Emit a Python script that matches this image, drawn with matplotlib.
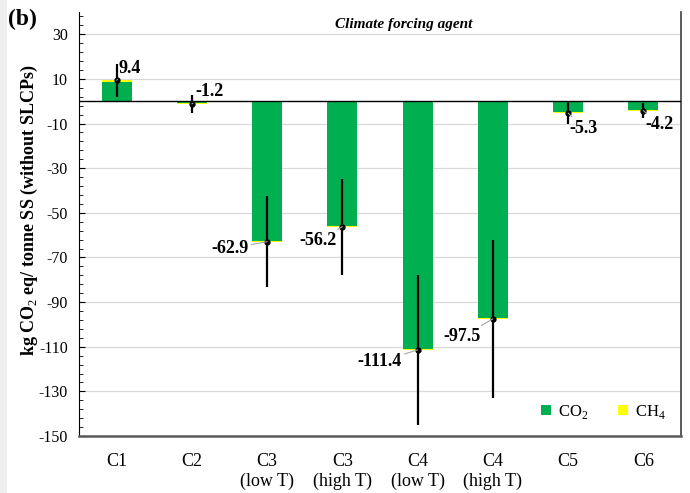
import numpy as np
import matplotlib
matplotlib.use("Agg")
import matplotlib.pyplot as plt
from matplotlib.ticker import FixedLocator
from matplotlib.patches import Rectangle

plt.rcParams['font.family'] = ['Liberation Serif', 'DejaVu Serif']
plt.rcParams['mathtext.fontset'] = 'custom'
plt.rcParams['mathtext.rm'] = 'Liberation Serif'
plt.rcParams['mathtext.bf'] = 'Liberation Serif:bold'
plt.rcParams['axes.unicode_minus'] = False

categories = ["C1", "C2", "C3\n(low T)", "C3\n(high T)", "C4\n(low T)",
              "C4\n(high T)", "C5", "C6"]
totals = [9.4, -1.2, -62.9, -56.2, -111.4, -97.5, -5.3, -4.2]
ch4 = [0.6, -0.2, -0.4, -0.4, -0.3, -0.4, -0.5, -0.4]
co2 = [t - c for t, c in zip(totals, ch4)]
err = [7.5, 4.0, 20.4, 21.5, 33.5, 35.5, 5.0, 3.5]

# label offsets (pixels) for the leader-line annotations
label_off = [(13, 12), (18, 12), (-37, -7), (-24, -14),
             (-38, -12), (-31, -18), (15, -15), (16, -14)]

green = "#00b050"
yellow = "#ffff00"

fig = plt.figure(figsize=(6.9, 4.93), dpi=100)
fig.patches.append(Rectangle((0, 0), 7 / 690, 1, transform=fig.transFigure,
                             facecolor="#efefef", edgecolor="none", zorder=0))
ax = fig.add_axes([0.1145, 0.1156, 0.8725, 0.8601])

x = np.arange(len(categories))
w = 0.4
ax.bar(x, co2, width=w, color=green, zorder=2, label="CO$_2$")
ax.bar(x, ch4, width=w, bottom=co2, color=yellow, zorder=2, label="CH$_4$")

ax.axhline(0, color="black", lw=1.0, zorder=3)
ax.errorbar(x, totals, yerr=err, fmt="o", color="black", ms=3.5,
            mfc="black", elinewidth=1.6, capsize=0, zorder=4)

for xi, t, (dx, dy) in zip(x, totals, label_off):
    ax.annotate(f"{t:.1f}", xy=(xi, t), xytext=(dx, dy),
                textcoords="offset pixels",
                ha="center", va="center", fontsize=13, fontweight="bold",
                arrowprops=dict(arrowstyle="-", color="#a6a6a6", lw=0.8,
                                shrinkA=0, shrinkB=0),
                zorder=5)

ax.set_xlim(-0.5, len(categories) - 0.5)
ax.set_ylim(-150, 40)
ax.yaxis.set_major_locator(FixedLocator(np.arange(-150, 31, 20)))
ax.yaxis.set_minor_locator(FixedLocator(np.arange(-150, 41, 4)))
ax.grid(axis="y", which="major", color="#d9d9d9", lw=0.9, zorder=0)
ax.set_axisbelow(True)

ax.set_xticks(x)
ax.set_xticklabels(categories, fontsize=13)
ax.tick_params(axis="x", length=0, pad=12)
ax.tick_params(axis="y", which="both", direction="in", labelsize=11.5)
ax.tick_params(axis="y", which="major", length=4, pad=8)
ax.tick_params(axis="y", which="minor", length=3)

ax.spines["top"].set_visible(False)
ax.spines["left"].set_color("black")
ax.spines["right"].set_color("#404040")
ax.spines["bottom"].set_color("#595959")
ax.spines["bottom"].set_linewidth(1.8)
ax.spines["right"].set_linewidth(1.2)

ax.set_ylabel("kg CO$_2$ eq/ tonne SS (without SLCPs)", fontsize=13,
              fontweight="bold")
ax.yaxis.set_label_coords(-0.065, 0.533)

ax.text(0.54, 0.985, "Climate forcing agent", transform=ax.transAxes,
        ha="center", va="top", fontsize=11, fontweight="bold",
        fontstyle="italic")
fig.text(0.011, 0.982, "(b)", fontsize=17, fontweight="bold", va="top")

ax.legend(loc="lower right", ncol=2, frameon=False, fontsize=12,
          handlelength=0.6, handleheight=0.6, columnspacing=1.8,
          handletextpad=0.4, bbox_to_anchor=(1.0, 0.0))

fig.savefig("out.png", dpi=100)
